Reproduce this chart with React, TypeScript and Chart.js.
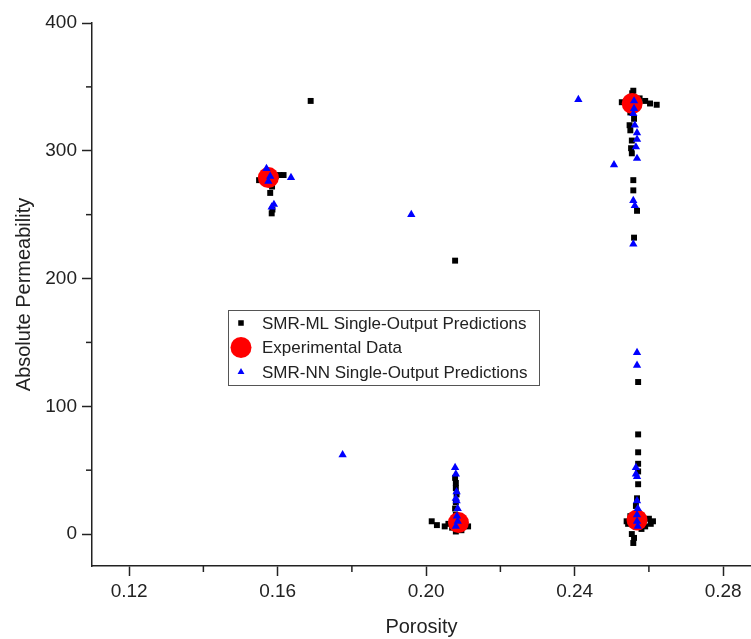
import React, { useEffect, useRef } from "react";
import { Chart, registerables } from "chart.js";
import { drawPoint } from "chart.js/helpers";

Chart.register(...registerables);

// ---- Axis ticks ----
const X_TICKS = [0.12, 0.16, 0.2, 0.24, 0.28];
const X_MINOR = [0.14, 0.18, 0.22, 0.26];
const Y_TICKS = [0, 100, 200, 300, 400];
const Y_MINOR = [50, 150, 250, 350];

// ---- SMR-ML Single-Output Predictions (black squares) ----
const ML_X = [
  0.155, 0.156, 0.157, 0.158, 0.1595, 0.1605, 0.1616, 0.1585, 0.158, 0.1584, 0.1586, 0.1575,
  0.1689,
  0.2078,
  0.2078, 0.208, 0.208, 0.2082, 0.208, 0.2078, 0.208, 0.2085, 0.2015, 0.2029, 0.205, 0.207, 0.21, 0.2113, 0.2095, 0.206, 0.208,
  0.2555, 0.2558, 0.2527, 0.254, 0.2603, 0.2621, 0.259, 0.2575, 0.255, 0.2554, 0.2554, 0.2558, 0.2558, 0.2568, 0.256, 0.255, 0.256, 0.2548, 0.2552,
  0.2571, 0.2571, 0.2571, 0.2571, 0.2571, 0.2571, 0.2568, 0.2565, 0.2568, 0.2544, 0.2611, 0.26, 0.259, 0.2554, 0.2558, 0.256, 0.258, 0.255, 0.254, 0.2605,
];
const ML_Y = [
  277, 277, 278, 276, 280, 281, 281, 272, 267, 251, 254, 283,
  339,
  214,
  44, 40, 36, 31, 25, 20, 15, 12, 10, 7, 6, 5, 6, 6, 3, 8, 2,
  345, 347, 338, 339, 337, 336, 339, 341, 316, 308, 298, 277, 269, 253, 232, 330, 325, 320, 302,
  119, 78, 64, 55, 49, 39, 28, 22, 16, 8, 10, 12, 6, 0, -7, -3, 4, 14, 10, 8,
];

// ---- Experimental Data (red circles) ----
const EXP_X = [0.1575, 0.2087, 0.2555, 0.2568];
const EXP_Y = [279, 9, 337, 11];

// ---- SMR-NN Single-Output Predictions (blue triangles) ----
const NN_X = [
  0.157, 0.1584, 0.159, 0.1636, 0.158, 0.1575,
  0.1775, 0.196, 0.241, 0.2506,
  0.2078, 0.208, 0.2082, 0.208, 0.2082, 0.2085, 0.2083, 0.2085, 0.208,
  0.2558, 0.2568, 0.2568, 0.2565, 0.2568, 0.2558, 0.2562, 0.2558, 0.256, 0.2562, 0.256,
  0.2568, 0.2568, 0.2565, 0.2565, 0.2568, 0.2568, 0.257, 0.2568, 0.2568, 0.257,
];
const NN_Y = [
  286, 256, 258, 279, 280, 276,
  62, 250, 340, 289,
  52, 47, 33, 28, 26, 20, 14, 10, 6,
  329, 314, 309, 303, 294, 261, 257, 227, 333, 320, 339,
  142, 132, 52, 47, 45, 26, 20, 15, 10, 6,
];

const SERIES_LABELS = [
  "SMR-ML Single-Output Predictions",
  "Experimental Data",
  "SMR-NN Single-Output Predictions",
];

const toPoints = (xs: number[], ys: number[]) => xs.map((x, i) => ({ x, y: ys[i] }));

const AXIS_COLOR = "#222";
const FONT_FAMILY = "'Liberation Sans', Arial, sans-serif";

const minorTicksPlugin = {
  id: "minorTicks",
  afterDraw(chart: any) {
    const { ctx, chartArea, scales } = chart;
    const xs = scales.x;
    const ys = scales.y;
    ctx.save();
    ctx.strokeStyle = AXIS_COLOR;
    ctx.lineWidth = 1.5;
    X_MINOR.forEach((v) => {
      const px = xs.getPixelForValue(v);
      ctx.beginPath();
      ctx.moveTo(px, chartArea.bottom);
      ctx.lineTo(px, chartArea.bottom + 6);
      ctx.stroke();
    });
    Y_MINOR.forEach((v) => {
      const py = ys.getPixelForValue(v);
      ctx.beginPath();
      ctx.moveTo(chartArea.left, py);
      ctx.lineTo(chartArea.left - 6, py);
      ctx.stroke();
    });
    ctx.restore();
  },
};

const boxLegendPlugin = {
  id: "boxLegend",
  afterDraw(chart: any, _args: any, opts: any) {
    const { ctx } = chart;
    const { left, top, width, height, rowH, markerX, textX, fontSize } = opts;
    ctx.save();
    ctx.fillStyle = "#fff";
    ctx.fillRect(left, top, width, height);
    ctx.strokeStyle = "#555";
    ctx.lineWidth = 1;
    ctx.strokeRect(left + 0.5, top + 0.5, width, height);
    const n = chart.data.datasets.length;
    const startY = top + (height - rowH * n) / 2;
    chart.data.datasets.forEach((ds: any, i: number) => {
      const cy = startY + rowH * (i + 0.5);
      ctx.fillStyle = ds.backgroundColor;
      ctx.strokeStyle = ds.backgroundColor;
      drawPoint(ctx, { pointStyle: ds.pointStyle, radius: ds.legendRadius, borderWidth: 0, rotation: 0 } as any, markerX, cy);
      ctx.fillStyle = AXIS_COLOR;
      ctx.font = `${fontSize}px ${FONT_FAMILY}`;
      ctx.textBaseline = "middle";
      ctx.textAlign = "left";
      ctx.fillText(ds.label, textX, cy + 1);
    });
    ctx.restore();
  },
};

export default function App() {
  const canvasRef = useRef<HTMLCanvasElement | null>(null);

  useEffect(() => {
    if (!canvasRef.current) return;
    const chart = new Chart(canvasRef.current, {
      type: "scatter",
      data: {
        datasets: [
          {
            label: SERIES_LABELS[0],
            data: toPoints(ML_X, ML_Y),
            pointStyle: "rect",
            pointRadius: 4.2,
            backgroundColor: "#000000",
            borderWidth: 0,
            order: 2,
            legendRadius: 3.9,
          } as any,
          {
            label: SERIES_LABELS[1],
            data: toPoints(EXP_X, EXP_Y),
            pointStyle: "circle",
            pointRadius: 10.5,
            backgroundColor: "#ff0000",
            borderWidth: 0,
            order: 1,
            legendRadius: 10.5,
          } as any,
          {
            label: SERIES_LABELS[2],
            data: toPoints(NN_X, NN_Y),
            pointStyle: "triangle",
            pointRadius: 4.8,
            backgroundColor: "#0000ff",
            borderWidth: 0,
            order: 0,
            legendRadius: 4,
          } as any,
        ],
      },
      options: {
        animation: false,
        responsive: true,
        maintainAspectRatio: false,
        devicePixelRatio: 1,
        layout: { autoPadding: false, padding: { top: 23, right: 0, left: 0, bottom: 0 } },
        plugins: {
          legend: { display: false },
          tooltip: { enabled: false },
          boxLegend: {
            left: 228,
            top: 310,
            width: 311,
            height: 75,
            rowH: 24.5,
            markerX: 241,
            textX: 262,
            fontSize: 17,
          },
        } as any,
        scales: {
          x: {
            type: "linear",
            min: 0.11,
            max: 0.2875,
            afterBuildTicks: (s: any) => {
              s.ticks = X_TICKS.map((v) => ({ value: v }));
            },
            afterFit: (s: any) => {
              s.height = 73;
              s.paddingLeft = 0;
              s.paddingRight = 0;
            },
            ticks: {
              autoSkip: false,
              maxRotation: 0,
              padding: 4,
              color: AXIS_COLOR,
              font: { family: FONT_FAMILY, size: 19 },
              callback: (v: any) => Number(v).toFixed(2),
            },
            grid: {
              drawOnChartArea: false,
              drawTicks: true,
              tickLength: 10,
              tickColor: AXIS_COLOR,
              tickWidth: 1.5,
              color: AXIS_COLOR,
            },
            border: { display: true, color: AXIS_COLOR, width: 1.5 },
            title: {
              display: true,
              text: "Porosity",
              color: AXIS_COLOR,
              font: { family: FONT_FAMILY, size: 20 },
              padding: { top: 0, bottom: 0 },
            },
          },
          y: {
            type: "linear",
            min: -25,
            max: 400,
            afterBuildTicks: (s: any) => {
              s.ticks = Y_TICKS.map((v) => ({ value: v }));
            },
            afterFit: (s: any) => {
              s.width = 92;
              s.paddingTop = 0;
              s.paddingBottom = 0;
            },
            ticks: {
              autoSkip: false,
              padding: 5,
              color: AXIS_COLOR,
              font: { family: FONT_FAMILY, size: 19 },
              callback: (v: any) => String(v),
            },
            grid: {
              drawOnChartArea: false,
              drawTicks: true,
              tickLength: 10,
              tickColor: AXIS_COLOR,
              tickWidth: 1.5,
              color: AXIS_COLOR,
            },
            border: { display: true, color: AXIS_COLOR, width: 1.5 },
            title: {
              display: true,
              text: "Absolute Permeability",
              color: AXIS_COLOR,
              font: { family: FONT_FAMILY, size: 20 },
              padding: { top: 12, bottom: 0 },
            },
          },
        },
      },
      plugins: [minorTicksPlugin, boxLegendPlugin],
    });
    return () => chart.destroy();
  }, []);

  return (
    <div style={{ position: "fixed", left: 0, top: 0, width: 751, height: 639, background: "#fff" }}>
      <canvas ref={canvasRef} />
    </div>
  );
}
